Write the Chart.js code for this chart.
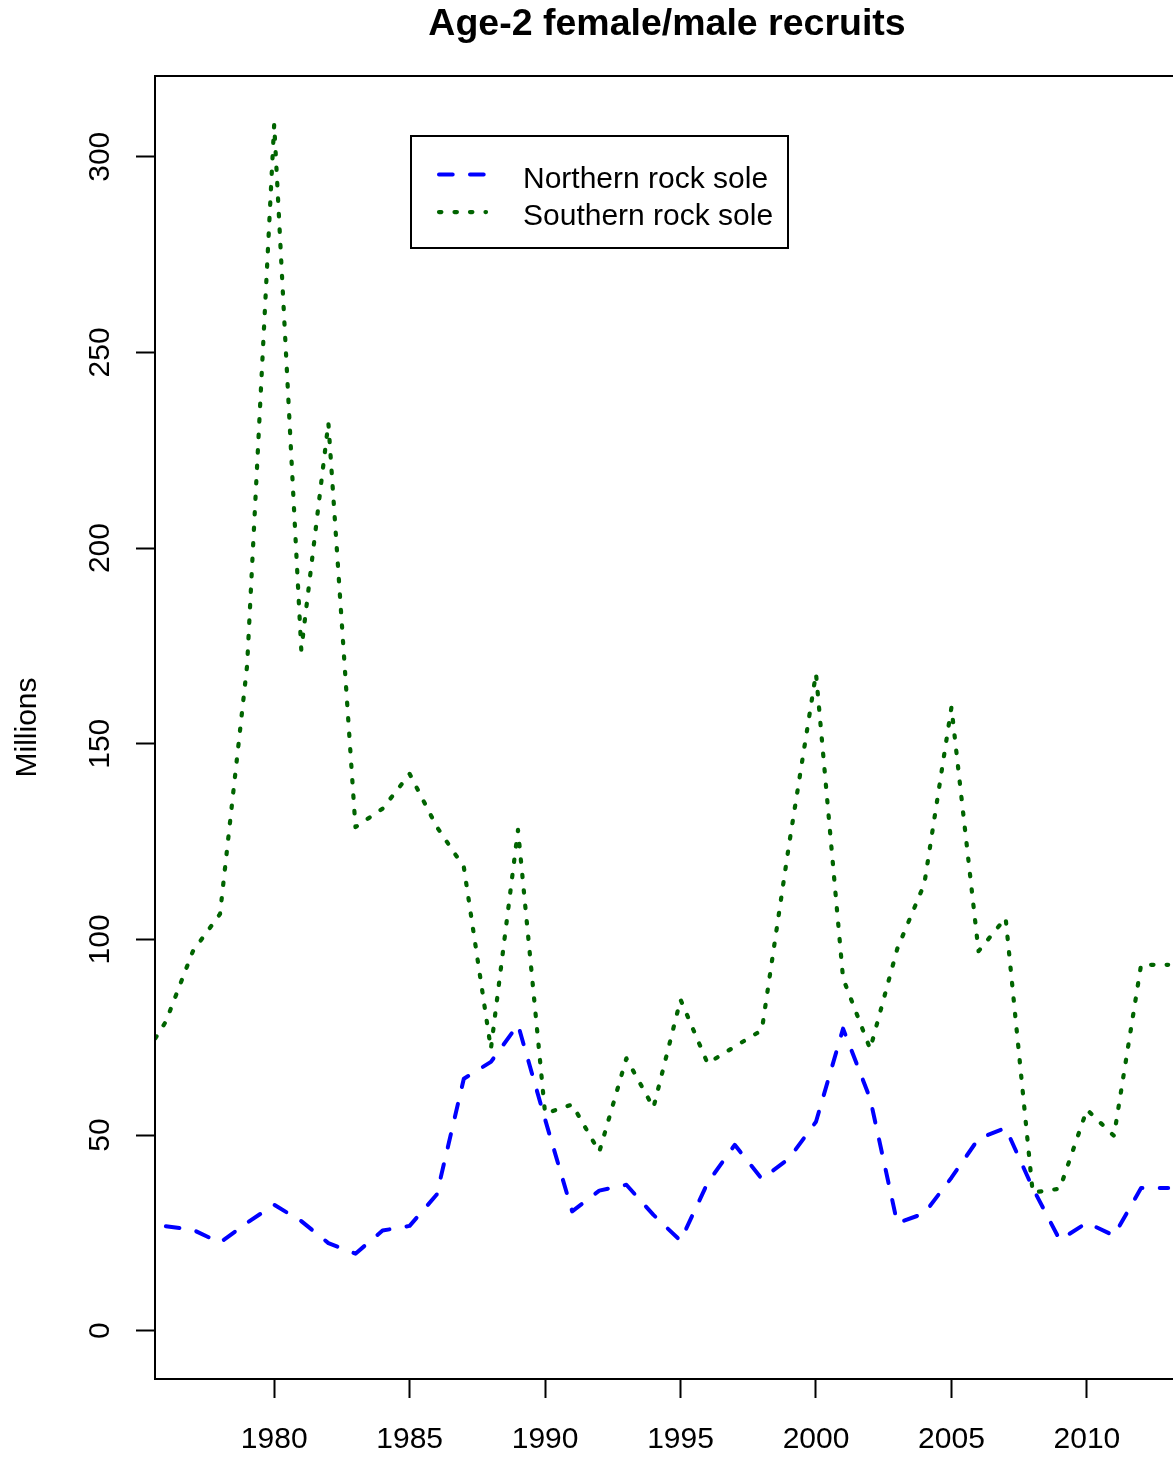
<!DOCTYPE html>
<html>
<head>
<meta charset="utf-8">
<title>Age-2 female/male recruits</title>
<script src="https://cdn.jsdelivr.net/npm/chart.js@4.4.1/dist/chart.umd.min.js"></script>
<style>
  html, body { margin: 0; padding: 0; background: #ffffff; overflow: hidden; }
  #wrap { position: absolute; left: 0; top: 0; width: 1200px; height: 1457px; }
</style>
</head>
<body>
<div id="wrap"><canvas id="chart" width="1200" height="1457"></canvas></div>
<script>
// Age-2 recruits (millions of fish), female + male, by year class
const years = [
  1975, 1976, 1977, 1978, 1979, 1980, 1981, 1982, 1983, 1984,
  1985, 1986, 1987, 1988, 1989, 1990, 1991, 1992, 1993, 1994,
  1995, 1996, 1997, 1998, 1999, 2000, 2001, 2002, 2003, 2004,
  2005, 2006, 2007, 2008, 2009, 2010, 2011, 2012, 2013
];
const northernRockSole = [
  null, 26.7, 25.8, 22.5, 27.6, 32.2, 28.0, 22.4, 19.7, 25.6,
  26.8, 34.8, 64.4, 68.7, 78.2, 54.0, 30.5, 35.8, 37.3, 29.6,
  23.0, 37.8, 47.5, 38.8, 44.0, 53.4, 77.2, 59.3, 27.5, 30.0,
  39.1, 49.1, 51.8, 36.5, 23.2, 27.6, 24.3, 36.5, 36.5
];
const southernRockSole = [
  68.0, 79.0, 97.0, 106.5, 170.0, 308.3, 174.0, 232.0, 128.7, 133.4,
  142.3, 128.8, 118.5, 72.0, 128.0, 55.5, 57.8, 45.7, 69.6, 57.0,
  84.6, 68.3, 72.6, 76.8, 124.0, 168.0, 90.0, 72.0, 97.6, 114.2,
  159.3, 97.0, 105.5, 35.3, 36.3, 56.5, 49.8, 93.5, 93.5
];
const seriesNames = ['Northern rock sole', 'Southern rock sole'];
const yearTicks = [1980, 1985, 1990, 1995, 2000, 2005, 2010];
const millionTicks = [0, 50, 100, 150, 200, 250, 300];

const FONT = "'Liberation Sans', Arial, Helvetica, sans-serif";
Chart.defaults.font.family = FONT;
Chart.defaults.color = '#000000';

const toPoints = (vals) => years.map((yr, i) => ({ x: yr, y: vals[i] }));

// Square frame around the plotting region
const plotFrame = {
  id: 'plotFrame',
  afterDatasetsDraw(chart) {
    const { ctx, chartArea: a } = chart;
    ctx.save();
    ctx.strokeStyle = '#000000';
    ctx.lineWidth = 2;
    ctx.strokeRect(a.left, a.top, a.right - a.left, a.bottom - a.top);
    ctx.restore();
  }
};

// Boxed key with line samples taken from each dataset's own style
const lineKey = {
  id: 'lineKey',
  afterDraw(chart, args, o) {
    const ctx = chart.ctx;
    ctx.save();
    ctx.fillStyle = '#ffffff';
    ctx.fillRect(o.left, o.top, o.width, o.height);
    ctx.strokeStyle = '#000000';
    ctx.lineWidth = 2;
    ctx.strokeRect(o.left, o.top, o.width, o.height);
    ctx.font = o.fontSize + 'px ' + FONT;
    ctx.textAlign = 'left';
    ctx.textBaseline = 'middle';
    chart.data.datasets.forEach((ds, i) => {
      const y = o.firstRow + i * o.rowGap;
      ctx.save();
      ctx.strokeStyle = ds.borderColor;
      ctx.lineWidth = ds.borderWidth;
      ctx.lineCap = 'round';
      ctx.setLineDash(ds.borderDash);
      ctx.beginPath();
      ctx.moveTo(o.sampleFrom, y + o.sampleShift);
      ctx.lineTo(o.sampleTo, y + o.sampleShift);
      ctx.stroke();
      ctx.restore();
      ctx.fillStyle = '#000000';
      ctx.fillText(ds.label, o.textX, y);
    });
    ctx.restore();
  }
};

new Chart(document.getElementById('chart'), {
  type: 'line',
  data: {
    datasets: [
      {
        label: seriesNames[0],
        data: toPoints(northernRockSole),
        borderColor: '#0000ff',
        borderWidth: 4,
        borderDash: [13.7, 17.3],
        borderCapStyle: 'round',
        borderJoinStyle: 'round',
        pointRadius: 0,
        tension: 0,
        fill: false,
        clip: 0,
        order: 1
      },
      {
        label: seriesNames[1],
        data: toPoints(southernRockSole),
        borderColor: '#006400',
        borderWidth: 4.2,
        borderDash: [2.4, 13.1],
        borderCapStyle: 'round',
        borderJoinStyle: 'round',
        pointRadius: 0,
        tension: 0,
        fill: false,
        clip: 0,
        order: 0
      }
    ]
  },
  options: {
    responsive: false,
    animation: false,
    devicePixelRatio: 1,
    layout: { padding: { left: 0, right: 21, top: 0, bottom: 0 } },
    plugins: {
      legend: { display: false },
      tooltip: { enabled: false },
      title: {
        display: true,
        fullSize: false,
        text: 'Age-2 female/male recruits',
        font: { size: 37.5, weight: 'bold', lineHeight: 1.2 },
        color: '#000000',
        padding: { top: 2, bottom: 29 }
      },
      lineKey: {
        left: 411, top: 136, width: 377, height: 112,
        firstRow: 179.5, rowGap: 37.6,
        sampleFrom: 439, sampleTo: 486, sampleShift: -5,
        textX: 523, fontSize: 30
      }
    },
    scales: {
      x: {
        type: 'linear',
        min: 1975.6,
        max: 2013.4,
        afterBuildTicks: (s) => { s.ticks = yearTicks.map(v => ({ value: v })); },
        afterFit: (s) => { s.height = 78; },
        border: { display: false },
        grid: {
          display: true,
          drawOnChartArea: false,
          drawTicks: true,
          tickLength: 19,
          tickWidth: 2,
          tickColor: '#000000'
        },
        ticks: {
          autoSkip: false,
          includeBounds: false,
          maxRotation: 0,
          minRotation: 0,
          padding: 24,
          font: { size: 30 },
          color: '#000000',
          callback: (v) => String(v)
        }
      },
      y: {
        type: 'linear',
        min: -12.33,
        max: 320.63,
        afterBuildTicks: (s) => { s.ticks = millionTicks.map(v => ({ value: v })); },
        afterFit: (s) => { s.width = 155; },
        border: { display: false },
        grid: {
          display: true,
          drawOnChartArea: false,
          drawTicks: true,
          tickLength: 19,
          tickWidth: 2,
          tickColor: '#000000'
        },
        ticks: {
          autoSkip: false,
          includeBounds: false,
          minRotation: 90,
          maxRotation: 90,
          crossAlign: 'center',
          padding: 10,
          font: { size: 30 },
          color: '#000000',
          callback: (v) => String(v)
        },
        title: {
          display: true,
          text: 'Millions',
          font: { size: 30, lineHeight: 1.2 },
          color: '#000000',
          padding: { top: 9.5, bottom: 0 }
        }
      }
    }
  },
  plugins: [plotFrame, lineKey]
});
</script>
</body>
</html>
